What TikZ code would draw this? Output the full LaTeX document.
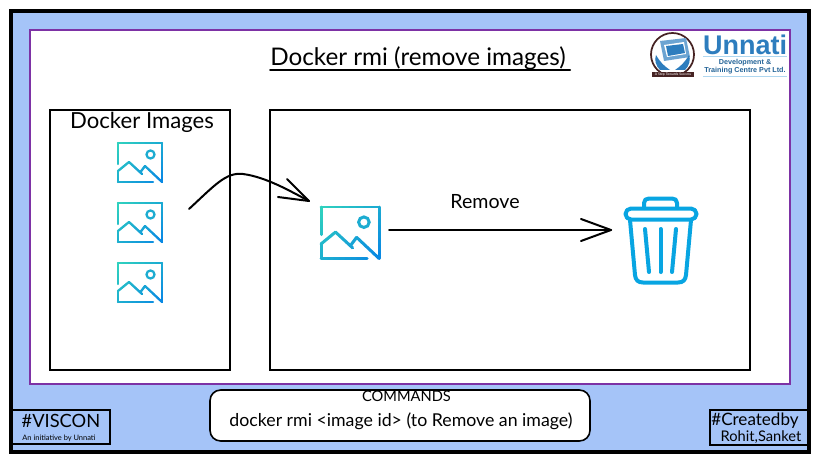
\documentclass[tikz,border=0pt]{standalone}
\usepackage{fontspec}
\setmainfont{Lato}
\newfontfamily\logofont{Liberation Sans}
\definecolor{pageblue}{RGB}{165,196,248}
\definecolor{framepurple}{RGB}{125,50,165}
\definecolor{icoA}{RGB}{48,210,190}
\definecolor{icoB}{RGB}{8,135,228}
\definecolor{trashblue}{RGB}{8,165,226}
\definecolor{logoblue}{RGB}{45,125,190}
\definecolor{logolight}{RGB}{175,215,240}
\definecolor{logodark}{RGB}{70,35,35}
\tikzset{
  box/.style={draw=black,line width=1.5pt,fill=white},
  label/.style={inner sep=0pt,text=black},
  holder/.style={inner sep=0pt,minimum width=#1*33pt,minimum height=#1*29.25pt},
  sketch/.style={draw=black,line width=1.5pt,line cap=round,line join=round},
  trashline/.style={draw=trashblue,line width=3pt,line cap=round,line join=round},
}
% gradient stroke for the picture icon
\newcommand\gline[4]{%
  \foreach \k in {1,...,8}{%
    \pgfmathsetmacro\ga{#1+(#3-#1)*(\k-1)/8}%
    \pgfmathsetmacro\gb{#2+(#4-#2)*(\k-1)/8}%
    \pgfmathsetmacro\gc{#1+(#3-#1)*\k/8}%
    \pgfmathsetmacro\gd{#2+(#4-#2)*\k/8}%
    \pgfmathtruncatemacro\gp{100*(\ga+\gb+\gc+\gd)/166}%
    \draw[draw=icoB!\gp!icoA,line cap=round] (\ga,\gb) -- (\gc,\gd);
  }%
}
\newcommand\picon[3]{%
  \begin{scope}[shift={(#1,#2)},scale=#3,line width=#3*1.7pt]
    \gline{0}{21}{0}{0}\gline{0}{0}{44}{0}\gline{44}{0}{44}{39}
    \gline{35}{39}{0}{39}\gline{0}{39}{0}{28}\gline{0}{28}{11}{19}
    \gline{11}{19}{24}{31}\gline{22.5}{29}{27}{23}\gline{27}{23}{44}{39}
    \draw[draw=icoA!50!icoB] (32.5,11.5) circle[radius=4];
  \end{scope}%
}
\begin{document}
\begin{tikzpicture}[x=0.75pt,y=-0.75pt]
\useasboundingbox (0,0) rectangle (820,460);
\fill[white] (0,0) rectangle (820,460);
% page
\draw[fill=pageblue,draw=black,line width=3pt] (11,11) rectangle (809,452);
\draw[fill=white,draw=framepurple,line width=1.5pt] (30,30) rectangle (790,384);
% title
\node[label,font=\fontsize{18.2}{20}\selectfont] (title) at (418,58) {Docker rmi (remove images)};
\coordinate (ulA) at (270,70);
\coordinate (ulB) at (570,70);
\draw[sketch] (ulA) -- (ulB);
% logo
\node[label,font=\logofont\bfseries\fontsize{20.25}{22}\selectfont,text=logoblue] (unnati) at (745,44.5) {Unnati};
\fill[logolight] (703,56.5) rectangle (787,57.5);
\fill[logolight] (703,76) rectangle (787,77);
\node[label,font=\logofont\bfseries\fontsize{5.4}{6}\selectfont,text=logoblue!80!black] (devt) at (745,62.5) {Development \&};
\node[label,font=\logofont\bfseries\fontsize{5.4}{6}\selectfont,text=logoblue!80!black] (train) at (745,71) {Training Centre Pvt Ltd.};
\draw[logodark,line width=1.3pt,fill=white] (672.5,54.5) circle[radius=21.5];
\fill[logoblue!70!white] (660,41) -- (686,38) -- (690,57) -- (664,61) -- cycle;
\fill[white] (664,45) -- (684,42) -- (686,54) -- (667,57) -- cycle;
\fill[logoblue] (666,46) -- (683,44) -- (685,53) -- (668,56) -- cycle;
\fill[logoblue] (656,55) .. controls (660,62) and (664,66) .. (670,70) -- (660,70) .. controls (656,66) and (654,60) .. (656,55) -- cycle;
\fill[logoblue] (689,55) .. controls (685,62) and (681,66) .. (675,70) -- (685,70) .. controls (689,66) and (691,60) .. (689,55) -- cycle;
\fill[logodark] (652,72) rectangle (694,77);
\node[label,font=\fontsize{2.6}{3}\selectfont,text=white] (tagline) at (673,74.5) {A Step Towards Success};
% boxes
\node[box,minimum width=135pt,minimum height=195pt,inner sep=0pt] (left) at (140,240) {};
\node[box,minimum width=360pt,minimum height=195pt,inner sep=0pt] (right) at (510,240) {};
\node[label,font=\fontsize{16.6}{18}\selectfont] (dimages) at (142,122) {Docker Images};
% icons
\node[holder=1] (img1) at (140,162.5) {};
\node[holder=1] (img2) at (140,222.5) {};
\node[holder=1] (img3) at (140,282.5) {};
\node[holder=1.32] (imgB) at (350,233) {};
\picon{118}{143}{1}
\picon{118}{203}{1}
\picon{118}{263}{1}
\picon{321}{207}{1.32}
% trash
\node[inner sep=0pt,minimum width=55.5pt,minimum height=64.5pt] (trash) at (661,240.5) {};
\draw[trashline] (644,208) -- (644,203) .. controls (644,200) and (646,198.5) .. (649,198.5) -- (672,198.5) .. controls (675,198.5) and (677,200) .. (677,203) -- (677,208);
\draw[trashline,rounded corners=4.1pt] (625.5,208.5) rectangle (696.5,219.5);
\draw[trashline] (630,220) -- (635,275) .. controls (635.5,280) and (638,282.5) .. (643,282.5) -- (678,282.5) .. controls (683,282.5) and (685.5,280) .. (686,275) -- (691,220);
\draw[trashline] (645,229) -- (649,272);
\draw[trashline] (660.5,229) -- (660.5,272);
\draw[trashline] (676,229) -- (672,272);
% connectors
\coordinate (curveStart) at (189,209);
\coordinate (curveTip) at (309,201);
\coordinate (curveBarbA) at (287,179);
\coordinate (curveBarbB) at (278,197);
\draw[sketch] (curveStart) .. controls (215,185) and (226,172) .. (243,174) .. controls (266,177) and (290,191) .. (curveTip);
\draw[sketch] (curveBarbA) -- (curveTip) -- (curveBarbB);
\coordinate (removeStart) at (389,230);
\coordinate (removeTip) at (611,230);
\coordinate (removeBarbA) at (581,219);
\coordinate (removeBarbB) at (581,241);
\draw[sketch] (removeStart) -- (removeTip);
\draw[sketch] (removeBarbA) -- (removeTip) -- (removeBarbB);
\node[label,font=\fontsize{14.7}{16}\selectfont] (remove) at (485,202) {Remove};
% commands
\node[draw=black,line width=1.2pt,fill=white,rounded corners=8pt,minimum width=285pt,minimum height=38.25pt,inner sep=0pt] (cmdbox) at (400,415.5) {};
\node[label,font=\fontsize{11}{13}\selectfont] (cmdtitle) at (406.5,396) {COMMANDS};
\node[label,font=\fontsize{13.3}{15}\selectfont] (cmdtext) at (401,421) {docker rmi <image id> (to Remove an image)};
% footers
\node[draw=black,line width=1.2pt,fill=pageblue,minimum width=73.5pt,minimum height=25.5pt,inner sep=0pt] (viscon) at (61,427) {};
\node[label,font=\fontsize{13.7}{15}\selectfont] (visconT) at (61,421) {\#VISCON};
\node[label,font=\fontsize{5.6}{6}\selectfont] (visconS) at (59,438) {An initiative by Unnati};
\node[draw=black,line width=1.2pt,fill=pageblue,minimum width=73.5pt,minimum height=26pt,inner sep=0pt] (created) at (759,427.5) {};
\node[label,font=\fontsize{12.8}{14}\selectfont] (createdT) at (755,421) {\#Createdby};
\node[label,font=\fontsize{11}{12}\selectfont] (createdS) at (761,437) {Rohit,Sanket};
\end{tikzpicture}
\end{document}
